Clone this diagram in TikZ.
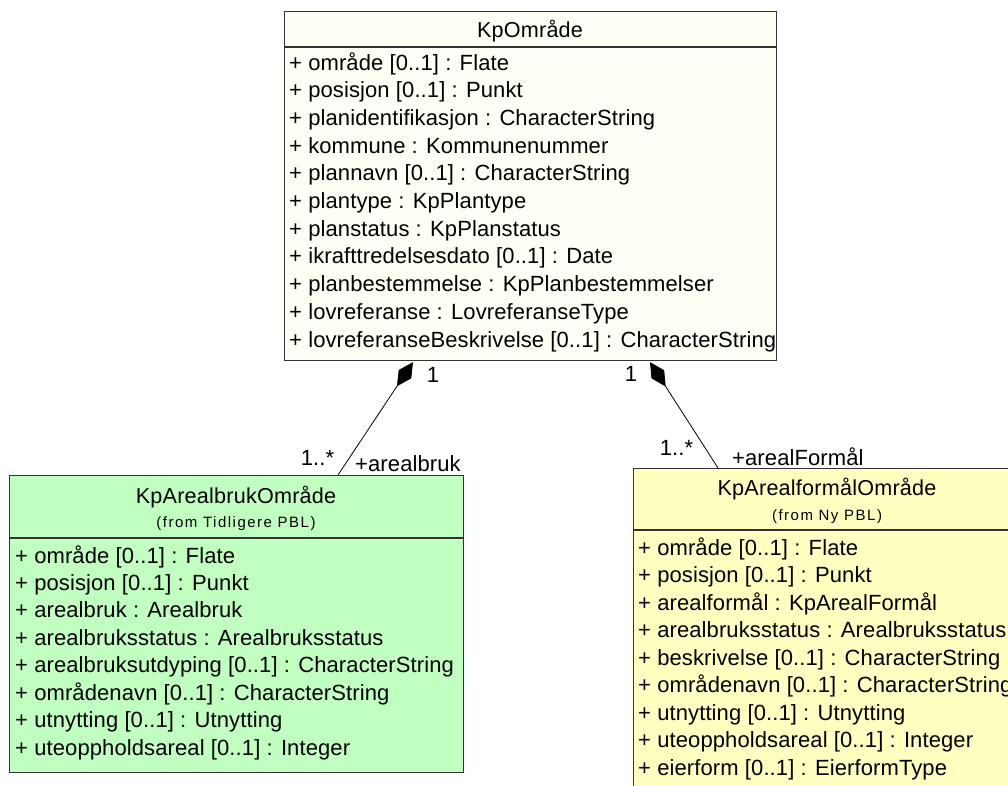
\documentclass[tikz,border=0pt]{standalone}
\usepackage{fontspec}
\setmainfont{Liberation Sans}[LetterSpace=0.5]
\newfontfamily\titlefnt{Liberation Sans}[LetterSpace=1]
\newfontfamily\smallfnt{Liberation Sans}[LetterSpace=10]
\usetikzlibrary{arrows.meta,calc}
\definecolor{topfill}{RGB}{255,255,246}
\definecolor{greenfill}{RGB}{192,255,192}
\definecolor{yellowfill}{RGB}{255,255,192}
\tikzset{
 cls/.style={draw=black!80, line width=1.1pt, inner sep=0pt, anchor=north west},
 sepline/.style={draw=black!80, line width=1.1pt},
 attr/.style={anchor=base west, inner sep=0pt, font=\fontsize{22}{26}\selectfont},
 ttl/.style={anchor=base, inner sep=0pt, font=\titlefnt\fontsize{21.6}{25}\selectfont},
 subttl/.style={anchor=base, inner sep=0pt, font=\smallfnt\fontsize{15}{17}\selectfont},
 lbl/.style={anchor=base, inner sep=0pt, font=\fontsize{22}{25}\selectfont},
 lblw/.style={anchor=base west, inner sep=0pt, font=\fontsize{22}{25}\selectfont},
 comp/.style={line width=0.8pt, {Diamond[length=29pt,width=15pt]}-},
}
\begin{document}
\begin{tikzpicture}[x=1pt,y=-1pt]
\useasboundingbox (0,0) rectangle (1008,785);
\fill[white] (0,0) rectangle (1008,785);
\clip (0,0) rectangle (1008,785);

% KpOmråde
\node[cls, fill=topfill, minimum width=492pt, minimum height=349pt] (top) at (284,11) {};
\draw[sepline] ($(top.north west)+(0,36)$) -- ($(top.north east)+(0,36)$);
\node[ttl] (toptitle) at (530,37) {KpOmråde};
\foreach \t [count=\i from 0] in {
 {+ område [0..1] : Flate},
 {+ posisjon [0..1] : Punkt},
 {+ planidentifikasjon : CharacterString},
 {+ kommune : Kommunenummer},
 {+ plannavn [0..1] : CharacterString},
 {+ plantype : KpPlantype},
 {+ planstatus : KpPlanstatus},
 {+ ikrafttredelsesdato [0..1] : Date},
 {+ planbestemmelse : KpPlanbestemmelser},
 {+ lovreferanse : LovreferanseType},
 {+ lovreferanseBeskrivelse [0..1] : CharacterString}}
 \node[attr] (ta\i) at (289,70+27.7*\i) {\t};

% KpArealbrukOmråde
\node[cls, fill=greenfill, minimum width=454pt, minimum height=297pt] (green) at (9,475) {};
\draw[sepline] ($(green.north west)+(0,63)$) -- ($(green.north east)+(0,63)$);
\node[ttl] (gtitle) at (236,503) {KpArealbrukOmråde};
\node[subttl] (gsub) at (236,527) {(from Tidligere PBL)};
\foreach \t [count=\i from 0] in {
 {+ område [0..1] : Flate},
 {+ posisjon [0..1] : Punkt},
 {+ arealbruk : Arealbruk},
 {+ arealbruksstatus : Arealbruksstatus},
 {+ arealbruksutdyping [0..1] : CharacterString},
 {+ områdenavn [0..1] : CharacterString},
 {+ utnytting [0..1] : Utnytting},
 {+ uteoppholdsareal [0..1] : Integer}}
 \node[attr] (ga\i) at (15,563+27.45*\i) {\t};

% KpArealformålOmråde
\node[cls, fill=yellowfill, minimum width=388pt, minimum height=330pt] (yellow) at (633,468) {};
\draw[sepline] ($(yellow.north west)+(0,62)$) -- ($(yellow.north east)+(0,62)$);
\node[ttl] (ytitle) at (827,495) {KpArealformålOmråde};
\node[subttl] (ysub) at (827,520) {(from Ny PBL)};
\foreach \t [count=\i from 0] in {
 {+ område [0..1] : Flate},
 {+ posisjon [0..1] : Punkt},
 {+ arealformål : KpArealFormål},
 {+ arealbruksstatus : Arealbruksstatus},
 {+ beskrivelse [0..1] : CharacterString},
 {+ områdenavn [0..1] : CharacterString},
 {+ utnytting [0..1] : Utnytting},
 {+ uteoppholdsareal [0..1] : Integer},
 {+ eierform [0..1] : EierformType}}
 \node[attr] (ya\i) at (638,555+27.5*\i) {\t};

% connectors
\coordinate (c1s) at ($(top.south west)+(129,1)$);
\coordinate (c1e) at ($(green.north west)+(329,0)$);
\draw[comp] (c1s) -- (c1e);
\coordinate (c2s) at ($(top.south west)+(366,1)$);
\coordinate (c2e) at ($(yellow.north west)+(85,0)$);
\draw[comp] (c2s) -- (c2e);

% labels
\node[lbl] (m1) at (433,382) {1};
\node[lbl] (m2) at (631,381) {1};
\node[lbl] (m3) at (317.5,465) {1..*};
\node[lblw] (r1) at (355,471) {+arealbruk};
\node[lbl] (m4) at (676.5,455) {1..*};
\node[lblw] (r2) at (732,465) {+arealFormål};
\end{tikzpicture}
\end{document}
